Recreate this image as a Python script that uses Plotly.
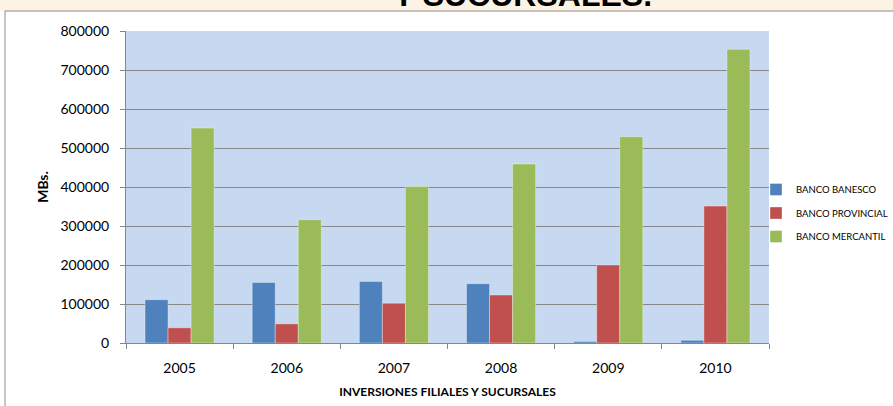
import plotly.graph_objects as go

years = ["2005", "2006", "2007", "2008", "2009", "2010"]
banesco = [111000, 155000, 158000, 152000, 4000, 7000]
provincial = [39000, 49000, 102000, 123000, 200000, 351000]
mercantil = [551000, 316000, 401000, 459000, 529000, 753000]

series = [
    ("BANCO BANESCO", banesco, "#4F81BD"),
    ("BANCO PROVINCIAL", provincial, "#C0504D"),
    ("BANCO MERCANTIL", mercantil, "#9BBB59"),
]

W, H = 893, 406
L, R, T, B = 126, 124, 31, 63
pw, ph = W - L - R, H - T - B


def px_x(p):
    return (p - L) / pw


def px_y(p):
    return 1 - (p - T) / ph


fig = go.Figure()
for name, vals, col in series:
    fig.add_trace(go.Bar(
        x=years, y=vals, name=name, legendgroup=name,
        marker=dict(color=col, line=dict(color="rgba(255,255,255,0.35)", width=1)),
    ))

fig.update_layout(
    width=W, height=H,
    margin=dict(l=L, r=R, t=T, b=B, autoexpand=False),
    paper_bgcolor="white",
    plot_bgcolor="#C6D9F0",
    barmode="group", bargap=0.355, bargroupgap=0,
    font=dict(family="Lato, sans-serif", size=14, color="black"),
    showlegend=True,
    legend=dict(
        x=px_x(756), y=px_y(175), xanchor="left", yanchor="top",
        font=dict(size=9.5), itemwidth=30, traceorder="grouped",
        tracegroupgap=4.5, bgcolor="rgba(0,0,0,0)",
    ),
    shapes=[
        # warm strip from the slide behind the chart
        dict(type="rect", xref="paper", yref="paper",
             x0=px_x(0), x1=px_x(W), y0=px_y(11), y1=px_y(0),
             fillcolor="#FCF3E4", line=dict(width=0), layer="below"),
        # chart area border
        dict(type="rect", xref="paper", yref="paper",
             x0=px_x(5), x1=px_x(W + 5), y0=px_y(H + 5), y1=px_y(11),
             fillcolor="rgba(0,0,0,0)", line=dict(color="#8C8C8C", width=1), layer="below"),
    ],
    annotations=[
        dict(text="<b>Y SUCURSALES.</b>", xref="paper", yref="paper",
             x=px_x(522), y=px_y(-5), xanchor="center", yanchor="middle",
             showarrow=False, font=dict(family="Liberation Sans, Arial", size=32, color="black")),
    ],
)

fig.update_xaxes(
    type="category", showline=True, linecolor="#868686", linewidth=1,
    ticks="outside", tickson="boundaries", ticklen=5, tickcolor="#868686",
    showgrid=False, ticklabelstandoff=12,
    title=dict(text="<b>INVERSIONES FILIALES Y SUCURSALES</b>", font=dict(size=12), standoff=12),
)
fig.update_yaxes(
    range=[0, 800000], dtick=100000, tickformat="d",
    showline=True, linecolor="#868686", linewidth=1,
    ticks="outside", ticklen=5, tickcolor="#868686",
    showgrid=True, gridcolor="#878787", gridwidth=1,
    zeroline=False, ticklabelstandoff=8,
    title=dict(text="<b>MBs.</b>", font=dict(size=14), standoff=8),
)

fig.write_html("out.html", config={"displayModeBar": False},
               post_script="document.body.style.margin='0px';")
